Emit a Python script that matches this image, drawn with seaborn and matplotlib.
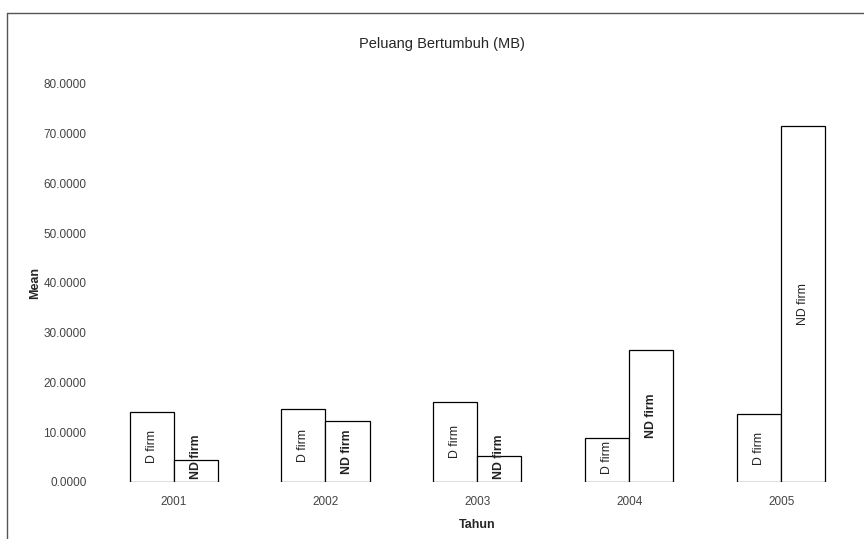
import matplotlib
matplotlib.use("Agg")
import matplotlib.pyplot as plt
import matplotlib.lines as mlines
import seaborn as sns
import pandas as pd

years = ["2001", "2002", "2003", "2004", "2005"]
groups = ["D firm", "ND firm"]
d_firm = [14.1, 14.6, 16.1, 8.8, 13.6]
nd_firm = [4.4, 12.3, 5.2, 26.5, 71.6]
y_ticks = [0, 10, 20, 30, 40, 50, 60, 70, 80]

df = pd.DataFrame({
    "Tahun": years * 2,
    "group": [groups[0]] * len(years) + [groups[1]] * len(years),
    "Mean": d_firm + nd_firm,
})

sns.set_style("white")
plt.rcParams["font.family"] = ["Liberation Sans", "DejaVu Sans"]

fig = plt.figure(figsize=(8.64, 5.39), dpi=100)
ax = fig.add_axes([0.113, 0.1058, 0.879, 0.7384])

sns.barplot(data=df, x="Tahun", y="Mean", hue="group", hue_order=groups,
            order=years, width=0.58, palette=["white", "white"],
            edgecolor="black", linewidth=0.9, legend=False, ax=ax)

# labels inside bars (pushed up when the bar is too short)
for i, yr in enumerate(years):
    for j, g in enumerate(groups):
        v = d_firm[i] if j == 0 else nd_firm[i]
        xpos = i + (-0.145 if j == 0 else 0.145)
        bold = (j == 1 and yr != "2005")
        ax.text(xpos, max(v / 2, 5.0), g, rotation=90, ha="center", va="center",
                fontsize=8.8, fontweight="bold" if bold else "normal", color="#222222")

ax.set_ylim(0, 80)
ax.set_xlim(-0.5, 4.5)
ax.set_yticks(y_ticks)
ax.set_yticklabels([f"{t:.4f}" for t in y_ticks])
ax.tick_params(axis="y", labelsize=8.5, pad=8, length=0, colors="#444444")
ax.tick_params(axis="x", labelsize=8.5, pad=10, length=0, colors="#444444")
for s in ax.spines.values():
    s.set_visible(False)

ax.set_xlabel("Tahun", fontsize=9, fontweight="bold", labelpad=8)
ax.set_ylabel("Mean", fontsize=9, fontweight="bold", labelpad=2)
fig.suptitle("Peluang Bertumbuh (MB)", x=0.512, y=0.918, fontsize=10.5, va="center")

# scanned page frame
fig.add_artist(mlines.Line2D([0.008, 0.008], [0.0, 0.976], color="#555555", lw=1))
fig.add_artist(mlines.Line2D([0.008, 1.0], [0.976, 0.976], color="#555555", lw=1))

fig.savefig("out.png", dpi=100)
